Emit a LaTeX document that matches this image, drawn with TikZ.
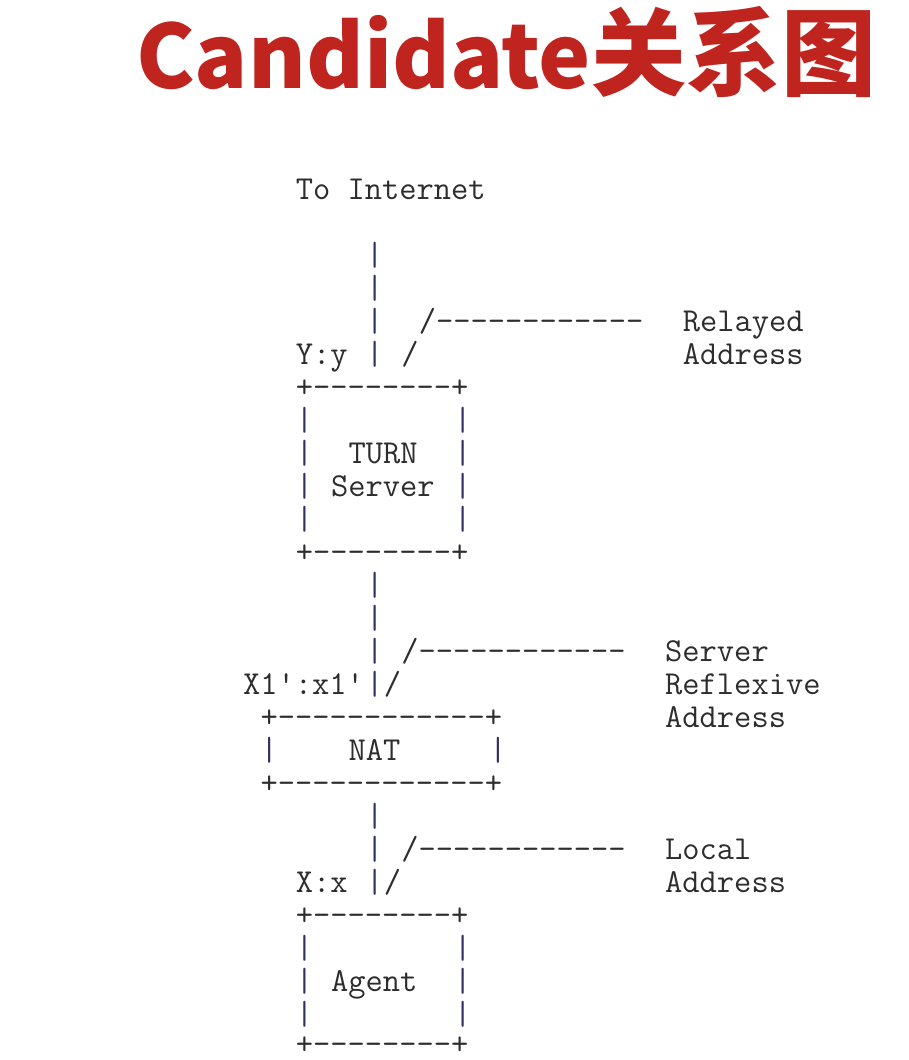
\documentclass[tikz,border=0pt]{standalone}
\usepackage{fontspec}
\newfontfamily\cjk{Noto Sans CJK SC}
\definecolor{titlered}{RGB}{192,36,30}
\definecolor{txtgray}{RGB}{45,45,45}
\definecolor{barblue}{RGB}{48,48,100}
\tikzset{
  tok/.style={inner sep=0pt,outer sep=0pt,anchor=base west,text=txtgray,text depth=0pt,
    font=\ttfamily\fontsize{33.5}{33}\selectfont},
  bartok/.style={tok,text=barblue},
  ttl/.style={inner sep=0pt,anchor=base west,text=titlered,text depth=0pt,
    font=\cjk\bfseries}
}
\newcommand\tk[4]{\node[tok] (#1) at ({366.2+(#2-21)*17.59},{-(199+33*#3)}) {#4};}
\newcommand\bb[3]{\node[bartok] (#1) at ({366.2+(#2-21)*17.59},{-(199+33*#3)}) {|};}
\begin{document}
\begin{tikzpicture}[x=1pt,y=1pt]
\useasboundingbox (0,0) rectangle (908,-1060);
\fill[white] (0,0) rectangle (908,-1060);
\node[ttl] (title) at (136,-88) {\fontsize{88}{90}\selectfont Candidate\fontsize{95}{100}\selectfont 关系图};
% top
\tk{inet}{17}{0}{To Internet}
\bb{b2}{21}{2}
\bb{b3}{21}{3}
\bb{b4}{21}{4}
\tk{rl}{24}{4}{/------------}
\tk{relayed}{39}{4}{Relayed}
\tk{yy}{17}{5}{Y:y}
\bb{b5}{21}{5}
\tk{rs}{23}{5}{/}
\tk{raddr}{39}{5}{Address}
% TURN box
\tk{t6}{17}{6}{+--------+}
\bb{t7l}{17}{7}\bb{t7r}{26}{7}
\bb{t8l}{17}{8}\tk{turn}{20}{8}{TURN}\bb{t8r}{26}{8}
\bb{t9l}{17}{9}\tk{server}{19}{9}{Server}\bb{t9r}{26}{9}
\bb{t10l}{17}{10}\bb{t10r}{26}{10}
\tk{t11}{17}{11}{+--------+}
% to NAT
\bb{b12}{21}{12}
\bb{b13}{21}{13}
\bb{b14}{21}{14}
\tk{sl}{23}{14}{/------------}
\tk{srv}{38}{14}{Server}
\tk{x1}{14}{15}{X1':x1'}
\bb{b15}{21}{15}
\tk{ss}{22}{15}{/}
\tk{refl}{38}{15}{Reflexive}
\tk{n16}{15}{16}{+------------+}
\tk{saddr}{38}{16}{Address}
\bb{n17l}{15}{17}\tk{nat}{20}{17}{NAT}\bb{n17r}{28}{17}
\tk{n18}{15}{18}{+------------+}
% to agent
\bb{b19}{21}{19}
\bb{b20}{21}{20}
\tk{ll}{23}{20}{/------------}
\tk{local}{38}{20}{Local}
\tk{xx}{17}{21}{X:x}
\bb{b21}{21}{21}
\tk{ls}{22}{21}{/}
\tk{laddr}{38}{21}{Address}
% agent box
\tk{a22}{17}{22}{+--------+}
\bb{a23l}{17}{23}\bb{a23r}{26}{23}
\bb{a24l}{17}{24}\tk{agent}{19}{24}{Agent}\bb{a24r}{26}{24}
\bb{a25l}{17}{25}\bb{a25r}{26}{25}
\node[tok] (a26) at ({366.2+(17-21)*17.59},-1054) {+--------+};
\end{tikzpicture}
\end{document}
